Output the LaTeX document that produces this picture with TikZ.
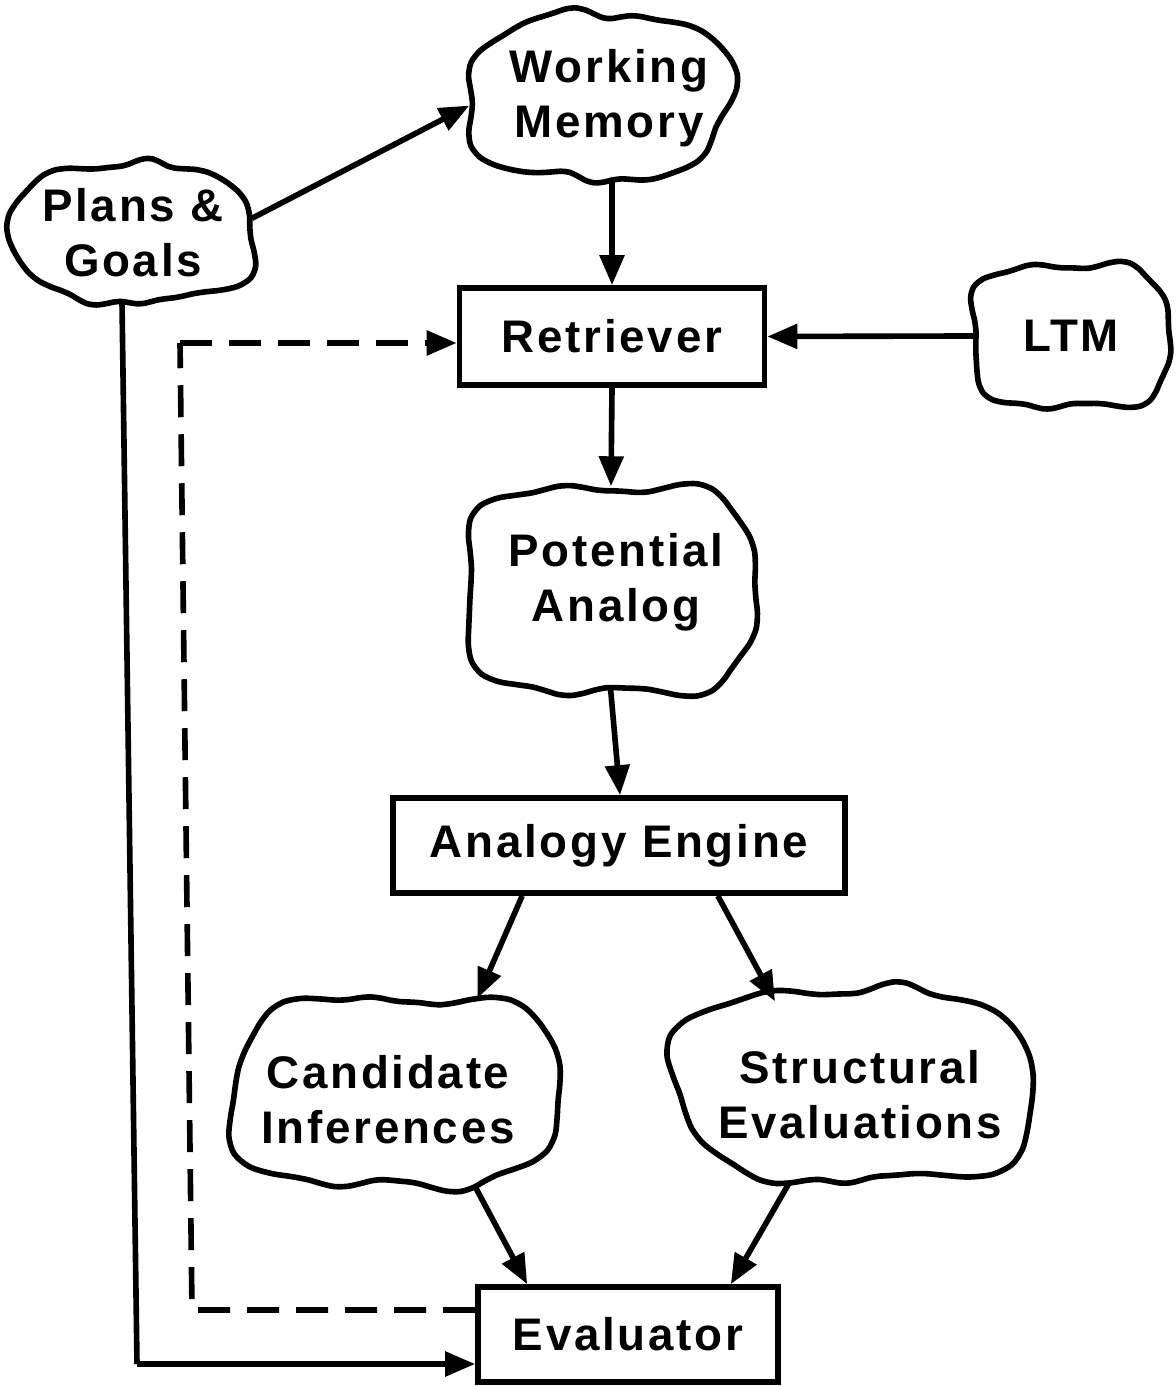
\documentclass[tikz,border=0pt]{standalone}
\usepackage{fontspec}
\setmainfont{Liberation Sans}[LetterSpace=6]
\usetikzlibrary{arrows.meta,calc}
\begin{document}
\begin{tikzpicture}[x=1cm,y=1cm,
  declare function={
    sr(\t,\a,\b)=1/(((abs(cos(\t))/\a)^3+(abs(sin(\t))/\b)^3)^0.33333);
    wb(\t,\q)=1+0.045*sin(4*\t+\q)+0.03*sin(7*\t+1.7*\q)+0.018*sin(11*\t+2.3*\q);
  },
  ln/.style={line width=1.6pt, line join=round},
  tip/.style={-{Triangle[length=0.3cm,width=0.24cm]}},
  arr/.style={ln, tip},
  dsh/.style={ln, dash pattern=on 0.32cm off 0.17cm},
  boxn/.style={draw, line width=1.6pt, inner sep=0pt, font=\fontsize{13}{15.6}\selectfont\bfseries},
  holder/.style={inner sep=0pt},
  ctext/.style={inner sep=0pt, align=center, font=\fontsize{13}{15.6}\selectfont\bfseries},
  cloudline/.style={line width=1.6pt, fill=white, line join=round},
]
\useasboundingbox (0,0) rectangle (11.76,-13.86);

% cloud holders (give each cloud a name and a size)
\node[holder, minimum width=2.58cm, minimum height=1.64cm] (wm) at (5.99,-0.965) {};
\node[holder, minimum width=2.36cm, minimum height=1.37cm] (pg) at (1.33,-2.33) {};
\node[holder, minimum width=2.02cm, minimum height=1.42cm] (ltm) at (10.71,-3.36) {};
\node[holder, minimum width=2.98cm, minimum height=2.06cm] (pa) at (6.11,-5.90) {};
\node[holder, minimum width=3.36cm, minimum height=1.86cm] (ci) at (3.96,-10.92) {};
\node[holder, minimum width=3.60cm, minimum height=1.90cm] (se) at (8.55,-10.85) {};

\node[boxn, minimum width=3.05cm, minimum height=0.97cm] (ret) at (6.12,-3.365) {Retriever};
\node[boxn, minimum width=4.52cm, minimum height=0.95cm] (ae) at (6.19,-8.455) {Analogy Engine};
\node[boxn, minimum width=3.00cm, minimum height=0.95cm] (ev) at (6.28,-13.345) {Evaluator};

\coordinate (c1) at (1.37,-13.64);
\coordinate (c2) at (1.92,-13.10);
\coordinate (c3) at (1.80,-3.43);

% connectors leaving clouds (start hidden under the cloud fill)
\draw[arr, shorten <=-0.3cm] (ret.north |- wm.south) -- (ret.north);
\draw[arr, shorten <=-0.3cm] (ltm.west) -- (ret.east);
\draw[arr, shorten <=-0.3cm] (pa.south) -- ($(ae.north)+(0.01,0)$);
\draw[arr, shorten <=-0.3cm] (ci.-50) -- ($(ev.north west)+(0.52,0)$);
\draw[arr, shorten <=-0.3cm] (se.236) -- ($(ev.north east)+(-0.5,0)$);
\draw[ln, shorten <=-0.3cm] ($(pg.south)+(-0.11,0)$) -- (c1);
\draw[arr] (c1) -- (c1 -| ev.west);

% dashed feedback
\draw[dsh] ($(ev.west)+(0,0.245)$) -- (c2 |- {$(ev.west)+(0,0.245)$}) -- (c3);
\draw[dsh, tip] (c3) -- (c3 -| ret.west);

% clouds
\draw[cloudline, shift={(wm.center)}] plot[smooth cycle, variable=\t, domain=3:357, samples=60]
  ({sr(\t,1.29,0.82)*wb(\t,20)*cos(\t)}, {sr(\t,1.29,0.82)*wb(\t,20)*sin(\t)});
\draw[cloudline, shift={(pg.center)}] plot[smooth cycle, variable=\t, domain=3:357, samples=60]
  ({sr(\t,1.18,0.685)*wb(\t,140)*cos(\t)}, {sr(\t,1.18,0.685)*wb(\t,140)*sin(\t)});
\draw[cloudline, shift={(ltm.center)}] plot[smooth cycle, variable=\t, domain=3:357, samples=60]
  ({sr(\t,1.01,0.71)*wb(\t,250)*cos(\t)}, {sr(\t,1.01,0.71)*wb(\t,250)*sin(\t)});
\draw[cloudline, shift={(pa.center)}] plot[smooth cycle, variable=\t, domain=3:357, samples=60]
  ({sr(\t,1.49,1.03)*wb(\t,270)*cos(\t)}, {sr(\t,1.49,1.03)*wb(\t,270)*sin(\t)});
\draw[cloudline, shift={(ci.center)}] plot[smooth cycle, variable=\t, domain=3:357, samples=60]
  ({sr(\t,1.68,0.93)*wb(\t,310)*cos(\t)}, {sr(\t,1.68,0.93)*wb(\t,310)*sin(\t)});
\draw[cloudline, shift={(se.center)}] plot[smooth cycle, variable=\t, domain=3:357, samples=60]
  ({sr(\t,1.80,0.95)*wb(\t,190)*cos(\t)}, {sr(\t,1.80,0.95)*wb(\t,190)*sin(\t)});

% cloud texts on top
\node[ctext] (wmt) at ($(wm.center)+(0.1,-0.02)$) {Working\\Memory};
\node[ctext] (pgt) at (pg.center) {Plans \&\\Goals};
\node[ctext] (ltmt) at (ltm.center) {LTM};
\node[ctext] (pat) at ($(pa.center)+(0.05,0.08)$) {Potential\\Analog};
\node[ctext] (cit) at ($(ci.center)+(-0.08,-0.08)$) {Candidate\\Inferences};
\node[ctext] (set) at ($(se.center)+(0.05,-0.1)$) {Structural\\Evaluations};

% connectors arriving at clouds
\draw[arr] (pg.7) -- (wm.184);
\draw[arr] (ret.south) -- (pa.north);
\draw[arr] ($(ae.south west)+(1.32,0)$) -- (ci.49);
\draw[arr] ($(ae.south east)+(-1.3,0)$) -- ($(se.north)+(-0.8,-0.12)$);
\end{tikzpicture}
\end{document}
